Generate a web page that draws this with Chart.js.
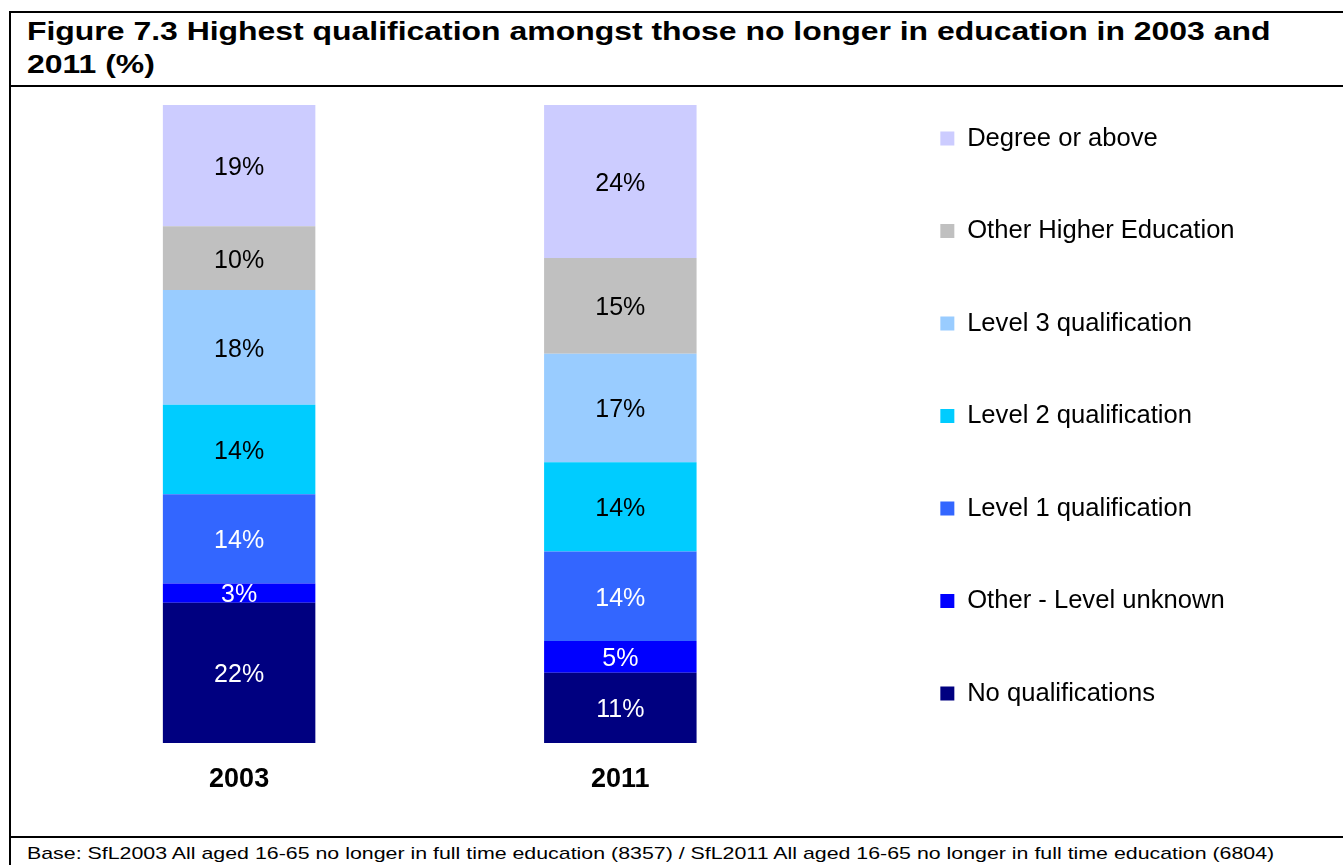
<!DOCTYPE html>
<html>
<head>
<meta charset="utf-8">
<title>Figure 7.3</title>
<script src="https://cdn.jsdelivr.net/npm/chart.js@4.4.1/dist/chart.umd.min.js"></script>
<style>
    html, body {
        margin: 0;
        padding: 0;
        background: #fff;
        width: 1343px;
        height: 865px;
        overflow: hidden;
        font-family: "Liberation Sans", Arial, sans-serif;
    }
    .frame {
        position: absolute;
        left: 9px;
        top: 11px;
        width: 1400px;
        height: 900px;
        border-left: 2px solid #000;
        border-top: 2px solid #000;
    }
    .rule {
        position: absolute;
        left: 9px;
        width: 1400px;
        height: 2px;
        background: #000;
    }
    .title {
        position: absolute;
        left: 27px;
        top: 15px;
        font-weight: bold;
        font-size: 25px;
        line-height: 33px;
        white-space: nowrap;
        color: #000;
        transform: scaleX(1.277);
        transform-origin: 0 0;
    }
    .note {
        position: absolute;
        left: 27px;
        top: 844px;
        font-size: 17px;
        line-height: 20px;
        white-space: nowrap;
        color: #000;
        transform: scaleX(1.256);
        transform-origin: 0 0;
    }
    .chart-box {
        position: absolute;
        left: 11px;
        top: 48px;
        width: 1332px;
        height: 789px;
    }
</style>
</head>
<body>
<div class="frame"></div>
<div class="title">Figure 7.3 Highest qualification amongst those no longer in education in 2003 and<br>2011 (%)</div>
<div class="rule" style="top:85px"></div>
<div class="rule" style="top:836px"></div>
<div class="note">Base: SfL2003 All aged 16-65 no longer in full time education (8357) / SfL2011 All aged 16-65 no longer in full time education (6804)</div>
<div class="chart-box"><canvas id="chart"></canvas></div>

<script>
// Survey years (x categories)
const years = ['2003', '2011'];

// Stack order, bottom to top
const qualLevels = [
    'No qualifications',
    'Other - Level unknown',
    'Level 1 qualification',
    'Level 2 qualification',
    'Level 3 qualification',
    'Other Higher Education',
    'Degree or above'
];

// Share of people (%) per level
const share2003 = [22, 3, 14, 14, 18, 10, 19];
const share2011 = [11, 5, 14, 14, 17, 15, 24];

const fillColors = ['#000080', '#0000FF', '#3366FF', '#00CCFF', '#99CCFF', '#C0C0C0', '#CCCCFF'];
const labelColors = ['#FFFFFF', '#FFFFFF', '#FFFFFF', '#000000', '#000000', '#000000', '#000000'];

const FONT = '"Liberation Sans", Arial, sans-serif';

// Writes the % value in the middle of every segment
const segmentLabels = {
    id: 'segmentLabels',
    afterDatasetsDraw(chart) {
        const ctx = chart.ctx;
        ctx.save();
        ctx.font = '25px ' + FONT;
        ctx.textAlign = 'center';
        ctx.textBaseline = 'middle';
        chart.data.datasets.forEach((ds, i) => {
            chart.getDatasetMeta(i).data.forEach((bar, j) => {
                const { x, y, base } = bar.getProps(['x', 'y', 'base'], true);
                ctx.fillStyle = labelColors[i];
                ctx.fillText(ds.data[j] + '%', x, (y + base) / 2 + 2.5);
            });
        });
        ctx.restore();
    }
};

const datasets = qualLevels.map((name, i) => ({
    label: name,
    data: [share2003[i], share2011[i]],
    backgroundColor: fillColors[i],
    borderWidth: 0,
    barPercentage: 0.4,
    categoryPercentage: 1.0
}));

new Chart(document.getElementById('chart'), {
    type: 'bar',
    data: {
        labels: years,
        datasets: datasets
    },
    options: {
        responsive: true,
        maintainAspectRatio: false,
        animation: false,
        layout: {
            padding: { left: 37.5, right: 98.4, top: 10.8, bottom: 21.6 }
        },
        plugins: {
            title: {
                // empty spacer above the plot only
                display: true,
                text: ' ',
                fullSize: false,
                font: { size: 10, lineHeight: 1 },
                padding: { top: 36.2, bottom: 0 }
            },
            legend: {
                position: 'right',
                align: 'start',
                reverse: true,
                maxWidth: 420,
                labels: {
                    boxWidth: 14,
                    boxHeight: 14,
                    padding: 66.9,
                    color: '#000',
                    font: { family: FONT, size: 25.6 }
                }
            },
            tooltip: { enabled: false }
        },
        scales: {
            x: {
                stacked: true,
                grid: { display: false, drawTicks: false },
                border: { display: false },
                ticks: {
                    color: '#000',
                    padding: 20,
                    font: { family: FONT, size: 27, weight: 'bold' }
                }
            },
            y: {
                stacked: true,
                position: 'right',
                min: 0,
                max: 100,
                grid: { display: false, drawTicks: false },
                border: { display: false },
                ticks: { display: false },
                afterFit(scale) {
                    scale.width = 62.5;
                }
            }
        }
    },
    plugins: [segmentLabels]
});
</script>
</body>
</html>
